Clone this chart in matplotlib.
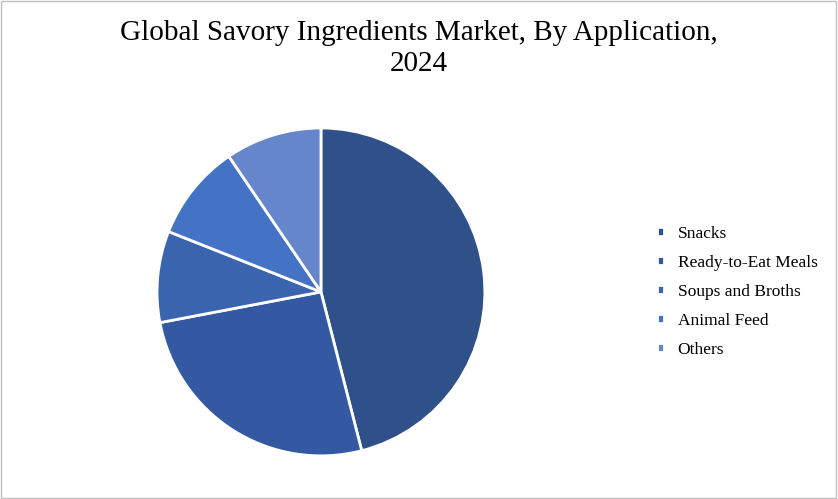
import matplotlib
matplotlib.use("Agg")
import matplotlib.pyplot as plt
from matplotlib.patches import Rectangle

categories = ["Snacks", "Ready-to-Eat Meals", "Soups and Broths", "Animal Feed", "Others"]
values = [46, 26, 9, 9.5, 9.5]
colors = ["#2F5089", "#3459A2", "#3A64AE", "#4472C4", "#6686CC"]

plt.rcParams['font.family'] = ['Liberation Serif', 'DejaVu Serif']
fig = plt.figure(figsize=(8.38, 4.99), dpi=100)
fig.patches.append(Rectangle((0.001, 0.002), 0.997, 0.996, transform=fig.transFigure,
                             fill=False, edgecolor="#BFBFBF", linewidth=1))
fig.suptitle("Global Savory Ingredients Market, By Application,\n2024", fontsize=21, y=0.96,
             linespacing=1.25)
ax = fig.add_axes([0.383 - 0.2175, 0.415 - 0.365, 0.435, 0.73])
wedges, _ = ax.pie(values, colors=colors, startangle=90, counterclock=False, radius=1.26,
                   wedgeprops=dict(edgecolor="white", linewidth=2))
ax.set_xlim(-1.4, 1.4); ax.set_ylim(-1.4, 1.4)
ax.set_aspect("equal")
fig.legend(wedges, categories, loc="center left", bbox_to_anchor=(0.765, 0.415), frameon=False,
           fontsize=12.5, handlelength=0.4, handleheight=0.4, labelspacing=0.75, handletextpad=0.8)
fig.savefig("out.png", dpi=100)
